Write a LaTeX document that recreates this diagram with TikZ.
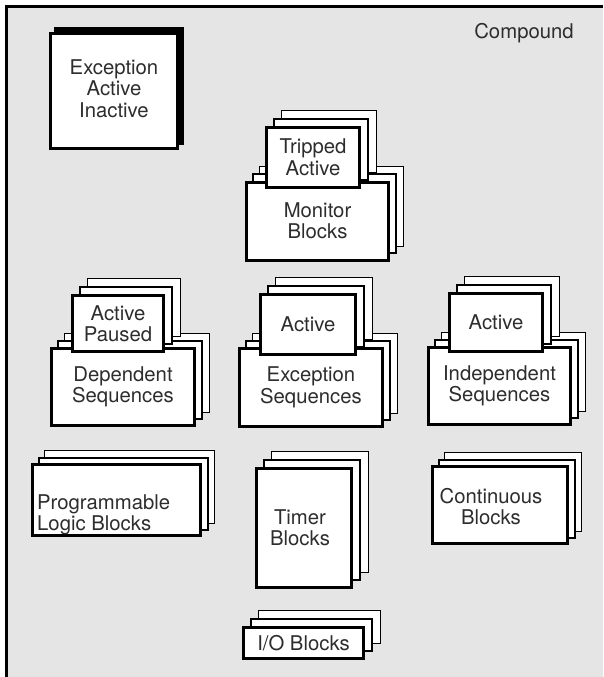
\documentclass[tikz,border=0pt]{standalone}
\usepackage{fontspec}
\setmainfont{TeX Gyre Heros}
\definecolor{framegray}{RGB}{229,229,229}
\definecolor{txt}{RGB}{45,45,45}
\newcommand{\backstack}[5]{%
  \draw[backthin] ({#1+2*#5+0.6},{#2-2*#5+0.6}) rectangle ({#3+2*#5-0.6},{#4-2*#5-0.6});
  \draw[backmid] ({#1+#5+1},{#2-#5+1}) rectangle ({#3+#5-1},{#4-#5-1});}
\begin{document}
\begin{tikzpicture}[x=1pt,y=-1pt,
  font=\fontsize{20.3}{21.5}\selectfont,
  front/.style={draw=black, line width=3pt, fill=white, inner sep=0pt, align=center, text=txt},
  label/.style={inner sep=0pt, text=txt},
  backmid/.style={draw=black, line width=2pt, fill=white},
  backthin/.style={draw=black, line width=1.2pt, fill=white}]
\useasboundingbox (0,0) rectangle (603,677);
% frame
\fill[framegray] (6.5,6.5) rectangle (603,677);
\draw[line width=3.2pt] (6.5,677) -- (6.5,6.5) -- (603,6.5);
\node[label] (compound) at (524,33) {Compound};
% Exception Active Inactive
\fill[black] (54,27) rectangle (184,145);
\node[front, minimum width=127, minimum height=115] (eai) at (114,91) {};
\node[label, align=center] (eaitext) at (114,88.5) {Exception\\Active\\Inactive};
% Monitor blocks
\backstack{245}{180}{390}{261}{7}
\backstack{265}{126}{361}{189}{8}
\node[front, minimum width=142, minimum height=78] (monitor) at (317.5,221) {Monitor\\Blocks};
\node[front, minimum width=93, minimum height=60] (tripped) at (313,157.5) {Tripped\\Active};
% Dependent sequences
\backstack{50}{347}{196}{427}{7}
\backstack{71}{294}{165}{353}{8}
\node[front, minimum width=143, minimum height=77] (dep) at (123,387) {Dependent\\Sequences};
\node[front, minimum width=91, minimum height=56] (deptab) at (118,323.5) {Active\\Paused};
% Exception sequences
\backstack{238}{347}{384}{428}{7}
\backstack{259}{293}{357}{356}{8}
\node[front, minimum width=143, minimum height=78] (exc) at (311,387.5) {Exception\\Sequences};
\node[front, minimum width=95, minimum height=60] (exctab) at (308,324.5) {Active};
% Independent sequences
\backstack{427}{346}{572}{426}{7}
\backstack{448}{292}{544}{353}{8}
\node[front, minimum width=142, minimum height=77] (ind) at (499.5,386) {Independent\\Sequences};
\node[front, minimum width=93, minimum height=58] (indtab) at (496,322.5) {Active};
% Programmable logic blocks
\backstack{31}{463}{202}{537}{6.5}
\node[front, minimum width=168, minimum height=71] (plb) at (116.5,500) {};
\node[label, anchor=west, align=left] (plbtext) at (37,515) {Programmable\\Logic Blocks};
% Timer blocks
\backstack{255}{467}{353}{589}{8}
\node[front, minimum width=95, minimum height=119] (timer) at (304,528) {};
\node[label, align=center] (timertext) at (300,527.5) {Timer\\Blocks};
% Continuous blocks
\backstack{431}{465}{569}{545}{6.5}
\node[front, minimum width=135, minimum height=77] (cont) at (500,505) {};
\node[label, align=center] (conttext) at (491,506.5) {Continuous\\Blocks};
% I/O blocks
\backstack{242}{626}{365}{660}{8}
\node[front, minimum width=120, minimum height=31] (io) at (303.5,643) {I/O Blocks};
\end{tikzpicture}
\end{document}
